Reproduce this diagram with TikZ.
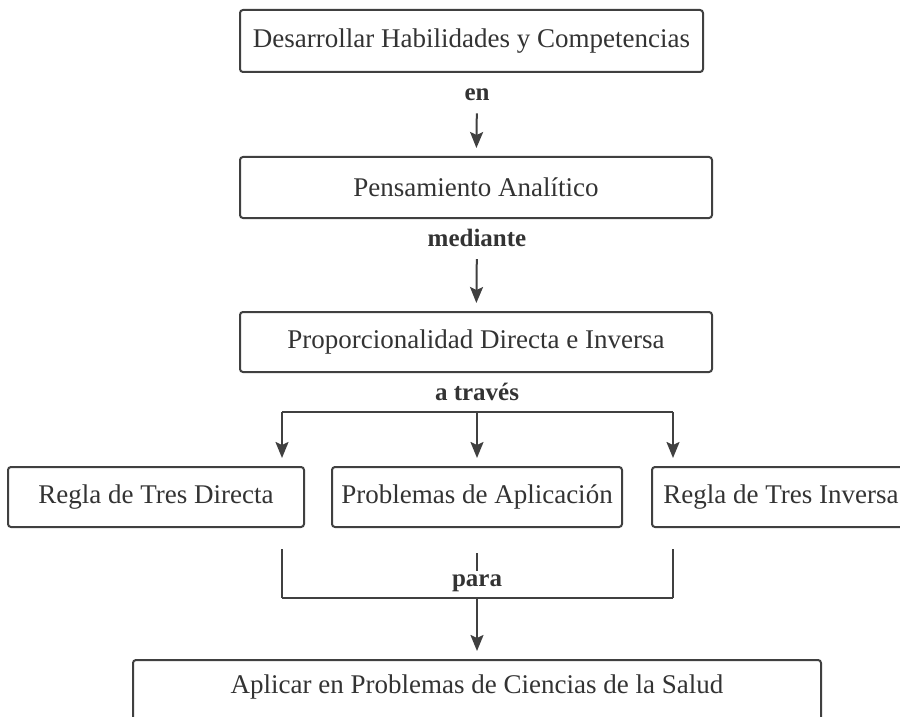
\documentclass[tikz,border=0pt]{standalone}
\usepackage{fontspec}
\setmainfont{Liberation Serif}
\usepackage{xcolor}
\usepackage{tikz}
\usetikzlibrary{arrows.meta,positioning,calc}
\definecolor{tinta}{HTML}{333333}
\definecolor{trazo}{HTML}{404040}
\tikzset{
  caja/.style={draw=trazo,line width=1pt,rounded corners=1.5pt,fill=white,text=tinta,font=\fontsize{13.5}{16}\selectfont,minimum height=30pt,inner sep=0pt},
  nexo/.style={font=\fontsize{12.5}{15}\selectfont\bfseries,text=tinta,inner sep=0pt},
  linea/.style={line width=1pt,color=trazo},
  flecha/.style={linea,-{Stealth[length=8pt,width=6.5pt,inset=1.5pt]},shorten >=4pt},
}

\begin{document}
\begin{tikzpicture}[x=0.5pt,y=-0.5pt]
    \useasboundingbox (0,0) rectangle (900,717);
    \clip (0,0) rectangle (900,717);
    \node[caja,minimum width=231.5pt,minimum height=31pt] (desarrollo) at (471.5,41) {Desarrollar Habilidades y Competencias};
    \node[nexo] (en) at (477,95) {en};
    \node[caja,minimum width=236pt,minimum height=30.5pt] (analitico) at (476,187.5) {Pensamiento Analítico};
    \node[nexo] (mediante) at (477,238) {mediante};
    \node[caja,minimum width=236pt] (proporcion) at (476,342) {Proporcionalidad Directa e Inversa};
    \node[nexo] (traves) at (477,392) {a través};
    \node[caja,minimum width=148pt] (directa) at (156,497) {Regla de Tres Directa};
    \node[caja,minimum width=145pt] (aplicacion) at (477,497) {Problemas de Aplicación};
    \node[caja,minimum width=129pt] (inversa) at (781,497) {Regla de Tres Inversa};
    \node[nexo] (para) at (477,583) {para};
    \node[caja,anchor=north,minimum width=344pt,minimum height=0pt,inner ysep=7pt,text height=9.5pt,text depth=20pt] (salud) at (477,659) {Aplicar en Problemas de Ciencias de la Salud};

    \coordinate (bl) at (282,412);
    \coordinate (br) at (673,412);
    \coordinate (bm) at (477,412);
    \coordinate (pl) at (282,598);
    \coordinate (pr) at (673,598);
    \coordinate (pm) at (477,598);

    \draw[flecha,shorten <=6pt] (en) -- (analitico);
    \draw[flecha,shorten <=6pt] (mediante) -- (proporcion);
    \draw[linea] (bl) -- (br);
    \draw[flecha] (bl) -- (bl |- directa.north);
    \draw[flecha] (bm) -- (aplicacion);
    \draw[flecha] (br) -- (br |- inversa.north);
    \draw[linea,shorten <=10.5pt] (directa.south -| pl) -- (pl);
    \draw[linea,shorten <=10.5pt] (inversa.south -| pr) -- (pr);
    \draw[linea] (pl) -- (pr);
    \draw[linea,shorten <=12.5pt,shorten >=1.5pt] (aplicacion) -- (para);
    \draw[flecha] (pm) -- (salud);
\end{tikzpicture}
\end{document}
